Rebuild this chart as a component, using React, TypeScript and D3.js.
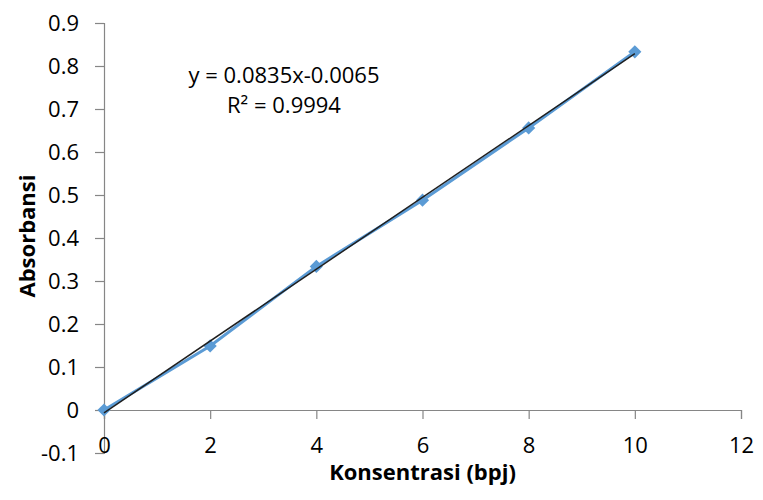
import { useEffect, useRef } from "react"
import * as d3 from "d3"

// concentration (bpj) and absorbance
const konsentrasi = [0, 2, 4, 6, 8, 10]
const absorbansi = [0, 0.149, 0.334, 0.488, 0.656, 0.833]
const xTicks = [0, 2, 4, 6, 8, 10, 12]
const yTicks = [-0.1, 0, 0.1, 0.2, 0.3, 0.4, 0.5, 0.6, 0.7, 0.8, 0.9]
const slope = 0.0835
const intercept = -0.0065
const equationLabel = "y = 0.0835x-0.0065"
const r2Label = "R² = 0.9994"
const xTitle = "Konsentrasi (bpj)"
const yTitle = "Absorbansi"

const W = 763
const H = 500
const FONT = "'Open Sans', 'Noto Sans', sans-serif"

const App = () => {
    const svgRef = useRef<SVGSVGElement>(null)

    useEffect(() => {
        const x = d3.scaleLinear().domain([0, 12]).range([104, 741])
        const y = d3.scaleLinear().domain([-0.1, 0.9]).range([453, 23])

        const svg = d3.select(svgRef.current)
        svg.selectAll("*").remove()

        const axisColor = "#868686"

        // y axis (vertical line at x = 0), plain hyphen for negatives
        const yAxis = svg.append("g")
            .attr("transform", `translate(${x(0)},0)`)
            .call(d3.axisLeft(y).tickValues(yTicks).tickSize(9).tickPadding(16)
                .tickFormat((d) => String(+(+d).toFixed(1))))
        yAxis.select(".domain").attr("stroke", axisColor).attr("stroke-width", 1.2)
        yAxis.selectAll("line").attr("stroke", axisColor).attr("stroke-width", 1.2)
        yAxis.selectAll("text")
            .attr("font-family", FONT).attr("font-size", 22).attr("fill", "#000")

        // x axis at y = 0
        const xAxis = svg.append("g")
            .attr("transform", `translate(0,${y(0)})`)
            .call(d3.axisBottom(x).tickValues(xTicks).tickSize(9).tickPadding(18))
        xAxis.select(".domain").attr("stroke", axisColor).attr("stroke-width", 1.2)
        xAxis.selectAll("line").attr("stroke", axisColor).attr("stroke-width", 1.2)
        xAxis.selectAll("text")
            .attr("font-family", FONT).attr("font-size", 22).attr("fill", "#000")

        const pts = konsentrasi.map((k, i) => [k, absorbansi[i]] as [number, number])

        // data line
        svg.append("path")
            .attr("fill", "none")
            .attr("stroke", "#5b9bd5")
            .attr("stroke-width", 3)
            .attr("d", d3.line<[number, number]>().x((d) => x(d[0])).y((d) => y(d[1]))(pts))

        // markers
        const diamond = d3.symbol().type(d3.symbolDiamond2).size(110)
        svg.selectAll(".pt")
            .data(pts)
            .enter()
            .append("path")
            .attr("d", diamond)
            .attr("transform", (d) => `translate(${x(d[0])},${y(d[1])})`)
            .attr("fill", "#5b9bd5")

        // linear trendline
        const x0 = d3.min(konsentrasi) as number
        const x1 = d3.max(konsentrasi) as number
        svg.append("line")
            .attr("x1", x(x0)).attr("y1", y(slope * x0 + intercept))
            .attr("x2", x(x1)).attr("y2", y(slope * x1 + intercept))
            .attr("stroke", "#1f1f1f")
            .attr("stroke-width", 1.5)

        // equation
        svg.append("text")
            .attr("x", 284).attr("y", 83)
            .attr("text-anchor", "middle")
            .attr("font-family", FONT).attr("font-size", 22)
            .text(equationLabel)
        svg.append("text")
            .attr("x", 284).attr("y", 113)
            .attr("text-anchor", "middle")
            .attr("font-family", FONT).attr("font-size", 22)
            .text(r2Label)

        // axis titles
        svg.append("text")
            .attr("x", x(6)).attr("y", 480)
            .attr("text-anchor", "middle")
            .attr("font-family", FONT).attr("font-size", 22).attr("font-weight", "bold")
            .text(xTitle)
        svg.append("text")
            .attr("transform", `translate(35,${y(0.4) - 2}) rotate(-90)`)
            .attr("text-anchor", "middle")
            .attr("font-family", FONT).attr("font-size", 22).attr("font-weight", "bold")
            .text(yTitle)
    }, [])

    return (
        <svg
            ref={svgRef}
            width={W}
            height={H}
            style={{ position: "absolute", left: 0, top: 0, background: "#fff" }}
        />
    )
}

export default App
